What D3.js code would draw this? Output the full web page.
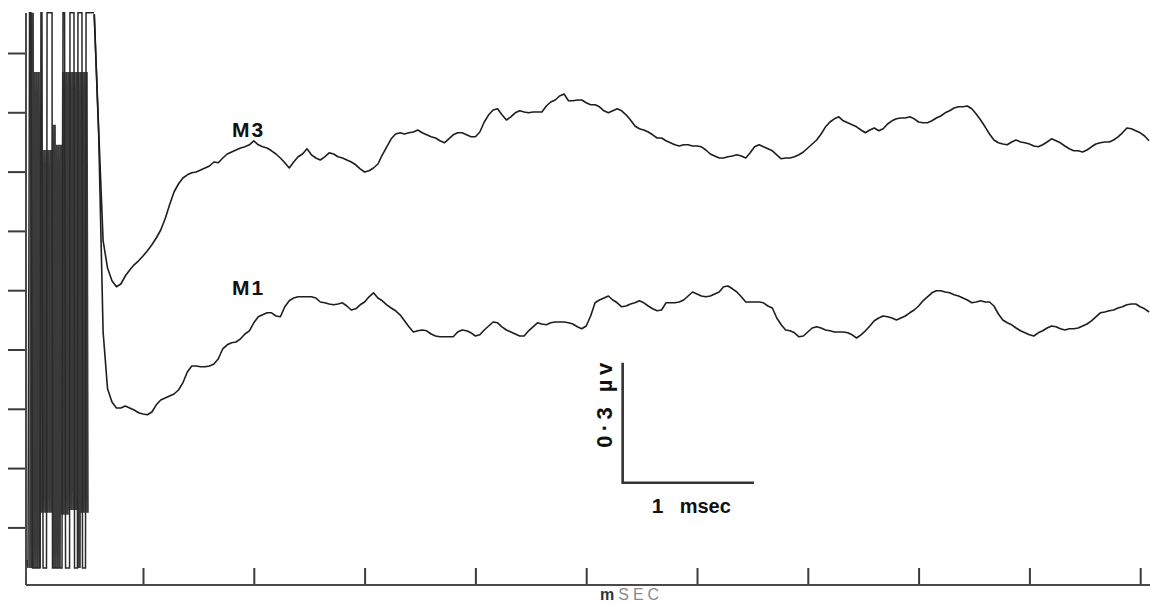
<!DOCTYPE html>
<html><head><meta charset="utf-8">
<script src="https://cdn.jsdelivr.net/npm/d3@7"></script>
<style>html,body{margin:0;padding:0;background:#fff;}svg{display:block;}</style>
</head><body>
<svg id="chart" width="1150" height="605"></svg>
<script>
// ---------- data (x in axis divisions, y in µV) ----------
const xTicks = [1, 2, 3, 4, 5, 6, 7, 8, 9, 10];
const yTicks = [0.1815, 0.3298, 0.4780, 0.6263, 0.7745, 0.9228, 1.0710, 1.2193, 1.3675];
const xAxisExtent = [-0.056, 10.1];
const yAxisExtent = [0.0375, 1.4675];
const xAxisLabel = "mSEC";

const sampleStart = 0.56;
const sampleStep = 0.04;

const seriesNames = ["M3", "M1"];

const m3Values = [
  1.465, 1.175, 0.898, 0.830, 0.798, 0.783, 0.790, 0.810, 0.825, 0.838,
  0.848, 0.860, 0.873, 0.888, 0.905, 0.925, 0.953, 0.988, 1.020, 1.040,
  1.055, 1.063, 1.068, 1.070, 1.075, 1.080, 1.085, 1.095, 1.093, 1.105,
  1.115, 1.120, 1.125, 1.130, 1.133, 1.138, 1.148, 1.138, 1.133, 1.130,
  1.123, 1.115, 1.105, 1.093, 1.080, 1.095, 1.108, 1.115, 1.128, 1.113,
  1.105, 1.100, 1.108, 1.118, 1.115, 1.108, 1.105, 1.100, 1.095, 1.088,
  1.078, 1.070, 1.073, 1.080, 1.090, 1.113, 1.133, 1.153, 1.165, 1.168,
  1.165, 1.168, 1.170, 1.175, 1.168, 1.163, 1.158, 1.155, 1.148, 1.143,
  1.153, 1.163, 1.168, 1.168, 1.163, 1.158, 1.158, 1.170, 1.195, 1.213,
  1.225, 1.228, 1.213, 1.200, 1.208, 1.218, 1.223, 1.220, 1.218, 1.220,
  1.220, 1.220, 1.235, 1.245, 1.250, 1.260, 1.265, 1.248, 1.248, 1.250,
  1.250, 1.243, 1.238, 1.238, 1.233, 1.223, 1.218, 1.223, 1.228, 1.223,
  1.213, 1.200, 1.185, 1.178, 1.175, 1.170, 1.163, 1.155, 1.155, 1.148,
  1.143, 1.138, 1.135, 1.138, 1.138, 1.135, 1.135, 1.133, 1.125, 1.115,
  1.110, 1.105, 1.105, 1.108, 1.110, 1.113, 1.110, 1.105, 1.118, 1.133,
  1.138, 1.133, 1.128, 1.123, 1.113, 1.103, 1.105, 1.105, 1.108, 1.113,
  1.120, 1.130, 1.140, 1.150, 1.165, 1.183, 1.195, 1.203, 1.208, 1.198,
  1.193, 1.188, 1.183, 1.175, 1.168, 1.175, 1.180, 1.173, 1.178, 1.190,
  1.198, 1.203, 1.205, 1.205, 1.208, 1.203, 1.195, 1.193, 1.193, 1.198,
  1.205, 1.210, 1.218, 1.223, 1.230, 1.233, 1.233, 1.235, 1.228, 1.215,
  1.200, 1.183, 1.165, 1.150, 1.143, 1.140, 1.138, 1.145, 1.150, 1.145,
  1.143, 1.140, 1.135, 1.133, 1.138, 1.145, 1.153, 1.148, 1.143, 1.135,
  1.128, 1.123, 1.123, 1.120, 1.125, 1.133, 1.140, 1.143, 1.145, 1.145,
  1.150, 1.158, 1.168, 1.180, 1.178, 1.173, 1.168, 1.160, 1.148
];

const m1Values = [
  1.463, 1.165, 0.670, 0.528, 0.495, 0.480, 0.480, 0.485, 0.480, 0.475,
  0.468, 0.465, 0.463, 0.470, 0.488, 0.500, 0.505, 0.510, 0.515, 0.525,
  0.543, 0.570, 0.585, 0.585, 0.583, 0.583, 0.585, 0.590, 0.603, 0.628,
  0.638, 0.643, 0.645, 0.653, 0.665, 0.673, 0.693, 0.708, 0.713, 0.718,
  0.718, 0.710, 0.708, 0.733, 0.748, 0.755, 0.758, 0.758, 0.758, 0.758,
  0.755, 0.745, 0.743, 0.740, 0.738, 0.740, 0.743, 0.735, 0.725, 0.728,
  0.738, 0.745, 0.758, 0.768, 0.755, 0.748, 0.738, 0.730, 0.723, 0.713,
  0.698, 0.683, 0.670, 0.673, 0.675, 0.673, 0.665, 0.660, 0.658, 0.658,
  0.658, 0.658, 0.670, 0.675, 0.673, 0.668, 0.660, 0.663, 0.675, 0.685,
  0.695, 0.693, 0.683, 0.675, 0.670, 0.665, 0.660, 0.660, 0.673, 0.683,
  0.693, 0.690, 0.688, 0.693, 0.695, 0.695, 0.695, 0.693, 0.690, 0.683,
  0.678, 0.685, 0.710, 0.743, 0.750, 0.755, 0.760, 0.750, 0.743, 0.733,
  0.735, 0.740, 0.743, 0.748, 0.743, 0.735, 0.728, 0.723, 0.725, 0.743,
  0.743, 0.743, 0.745, 0.750, 0.760, 0.770, 0.765, 0.760, 0.758, 0.760,
  0.765, 0.770, 0.783, 0.785, 0.778, 0.770, 0.758, 0.745, 0.745, 0.745,
  0.745, 0.743, 0.735, 0.730, 0.705, 0.688, 0.675, 0.673, 0.668, 0.658,
  0.660, 0.670, 0.680, 0.683, 0.680, 0.675, 0.673, 0.670, 0.670, 0.670,
  0.668, 0.663, 0.655, 0.663, 0.673, 0.685, 0.698, 0.705, 0.710, 0.708,
  0.705, 0.700, 0.705, 0.710, 0.718, 0.725, 0.735, 0.748, 0.758, 0.768,
  0.773, 0.773, 0.770, 0.768, 0.763, 0.760, 0.755, 0.750, 0.743, 0.745,
  0.748, 0.745, 0.745, 0.735, 0.715, 0.700, 0.693, 0.688, 0.680, 0.673,
  0.668, 0.663, 0.660, 0.668, 0.673, 0.680, 0.685, 0.683, 0.678, 0.675,
  0.678, 0.678, 0.680, 0.685, 0.690, 0.698, 0.708, 0.718, 0.720, 0.723,
  0.725, 0.730, 0.733, 0.738, 0.740, 0.740, 0.733, 0.728, 0.720
];

// stimulus artifact: dense fast oscillation (regularly sampled)
const artifactStart = -0.02;
const artifactStep = 0.009;
const artifactDense = [
  0.080, 1.468, 0.080, 1.468, 0.080, 1.320, 0.080, 1.320, 0.080, 1.320,
  0.080, 1.125, 0.218, 1.125, 0.218, 1.125, 0.218, 1.125, 0.218, 1.125,
  0.218, 1.125, 0.218, 1.188, 0.080, 1.188, 0.080, 1.138, 0.080, 1.138,
  0.080, 1.138, 0.213, 1.320, 0.213, 1.320, 0.213, 1.320, 0.213, 1.320,
  0.225, 1.320, 0.225, 1.320, 0.225, 1.320, 0.225, 1.320, 0.080, 1.320,
  0.080, 1.320, 0.218, 1.320, 0.218, 1.320, 0.218, 1.320, 0.218
];
// stimulus artifact: clipped full-range sweeps [time, µV]
const artifactSweep = [
  [-0.047, 0.100], [-0.038, 0.080], [-0.024, 1.468], [-0.011, 1.468],
  [0.003, 0.080], [0.070, 0.080], [0.079, 1.468], [0.088, 1.468],
  [0.098, 0.080], [0.129, 0.080], [0.134, 1.468], [0.179, 1.468],
  [0.183, 0.080], [0.269, 0.080], [0.278, 1.468], [0.292, 1.468],
  [0.301, 0.080], [0.337, 0.080], [0.341, 1.468], [0.377, 1.468],
  [0.382, 0.080], [0.409, 0.080], [0.413, 1.468], [0.449, 1.468],
  [0.454, 0.080], [0.481, 0.080], [0.486, 1.468], [0.558, 1.468]
];

// calibration bar
const scaleBar = { t: 5.329, v: 0.293, dt: 1.185, dv: 0.3 };
const scaleBarLabels = { vertical: "0\u00B73 \u00B5v", horizontalNum: "1", horizontalUnit: "msec" };

// ---------- drawing ----------
const svg = d3.select("#chart");
const x = d3.scaleLinear().domain([0, 10]).range([32.2, 1140.2]);
const y = d3.scaleLinear().domain([0, 1.5]).range([600, 0]);

const axisColor = "#3c3c3c";
const font = "Liberation Sans, Arial, sans-serif";

// bottom axis (ticks pointing up)
const gx = svg.append("g")
  .attr("transform", `translate(0,${y(yAxisExtent[0])})`)
  .call(d3.axisBottom(x).tickValues(xTicks).tickSize(-17).tickFormat(""));
gx.select(".domain").remove();
gx.selectAll(".tick line").attr("stroke", axisColor).attr("stroke-width", 2);

svg.append("line")
  .attr("x1", x(xAxisExtent[0])).attr("x2", x(xAxisExtent[1]))
  .attr("y1", y(yAxisExtent[0])).attr("y2", y(yAxisExtent[0]))
  .attr("stroke", "#4a4a4a").attr("stroke-width", 2.2);

// left axis (ticks pointing left)
const gy = svg.append("g")
  .attr("transform", `translate(${x(xAxisExtent[0])},0)`)
  .call(d3.axisLeft(y).tickValues(yTicks).tickSize(18).tickFormat(""));
gy.select(".domain").remove();
gy.selectAll(".tick line").attr("stroke", axisColor).attr("stroke-width", 2);

svg.append("line")
  .attr("x1", x(xAxisExtent[0])).attr("x2", x(xAxisExtent[0]))
  .attr("y1", y(yAxisExtent[1])).attr("y2", y(yAxisExtent[0]))
  .attr("stroke", "#4a4a4a").attr("stroke-width", 2);

// axis title
const xt = svg.append("text")
  .attr("x", 600).attr("y", 600)
  .attr("font-family", font)
  .attr("font-size", 16).attr("letter-spacing", 4);
xt.append("tspan").attr("fill", "#333").attr("font-weight", "bold").text(xAxisLabel.slice(0, 1));
xt.append("tspan").attr("fill", "#8a8a8a").text(xAxisLabel.slice(1));

// traces
const line = d3.line().x(d => x(d[0])).y(d => y(d[1]));
const sampled = (vals, t0, dt) => vals.map((v, i) => [t0 + i * dt, v]);

svg.append("path")
  .datum(sampled(artifactDense, artifactStart, artifactStep))
  .attr("d", line).attr("fill", "none")
  .attr("stroke", "#3a3a3a").attr("stroke-width", 1.9).attr("stroke-linejoin", "bevel");

svg.append("path")
  .datum(artifactSweep)
  .attr("d", line).attr("fill", "none")
  .attr("stroke", "#2a2a2a").attr("stroke-width", 1.5);

const traces = [m3Values, m1Values];
traces.forEach(vals => {
  svg.append("path")
    .datum(sampled(vals, sampleStart, sampleStep))
    .attr("d", line).attr("fill", "none")
    .attr("stroke", "#1e1e1e").attr("stroke-width", 1.6)
    .attr("stroke-linejoin", "round");
});

// trace labels
const labelAnchors = [{ t: 1.803, v: 1.1575 }, { t: 1.803, v: 0.7625 }];
seriesNames.forEach((name, i) => {
  svg.append("text")
    .attr("x", x(labelAnchors[i].t)).attr("y", y(labelAnchors[i].v))
    .attr("font-family", font)
    .attr("font-weight", "bold").attr("font-size", 21)
    .attr("letter-spacing", 2)
    .attr("fill", "#111").text(name);
});

// calibration bar
const sb = scaleBar;
svg.append("path")
  .attr("d", `M${x(sb.t)},${y(sb.v + sb.dv)}L${x(sb.t)},${y(sb.v)}L${x(sb.t + sb.dt)},${y(sb.v)}`)
  .attr("fill", "none").attr("stroke", "#333").attr("stroke-width", 2.6);

svg.append("text")
  .attr("transform", `translate(${x(sb.t) - 11},${y(sb.v) - 35}) rotate(-90)`)
  .attr("font-family", font)
  .attr("font-weight", "bold").attr("font-size", 22)
  .attr("textLength", 85).attr("lengthAdjust", "spacing")
  .attr("fill", "#111").text(scaleBarLabels.vertical);

svg.append("text")
  .attr("x", x(sb.t) + 29).attr("y", y(sb.v) + 30)
  .attr("font-family", font)
  .attr("font-weight", "bold").attr("font-size", 21)
  .attr("fill", "#111").text(scaleBarLabels.horizontalNum);

svg.append("text")
  .attr("x", x(sb.t) + 57).attr("y", y(sb.v) + 30)
  .attr("font-family", font)
  .attr("font-weight", "bold").attr("font-size", 20)
  .attr("fill", "#111").text(scaleBarLabels.horizontalUnit);
</script>
</body></html>
